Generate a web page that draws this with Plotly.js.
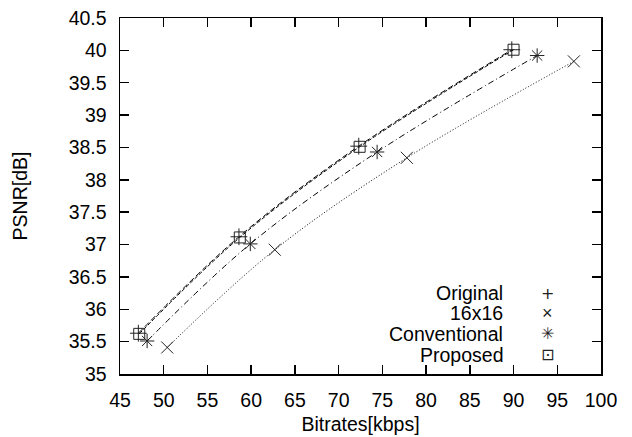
<!DOCTYPE html>
<html>
<head>
<meta charset="utf-8">
<script src="https://cdn.plot.ly/plotly-3.0.1.min.js"></script>
<style>html,body{margin:0;padding:0;background:#fff;}#chart{width:632px;height:437px;}</style>
</head>
<body>
<div id="chart"></div>
<script>
// Data
const seriesNames = ["Original", "16x16", "Conventional", "Proposed"];
const originalRate = [47.1, 58.6, 72.3, 89.8];
const originalPsnr = [35.63, 37.12, 38.52, 40.01];
const rate16 = [50.4, 62.7, 77.8, 96.9];
const psnr16 = [35.41, 36.92, 38.34, 39.83];
const conventionalRate = [48.1, 59.9, 74.4, 92.7];
const conventionalPsnr = [35.51, 37.01, 38.43, 39.92];
const proposedRate = [47.2, 58.7, 72.4, 90.0];
const proposedPsnr = [35.62, 37.11, 38.51, 40.01];
const xTicks = [45, 50, 55, 60, 65, 70, 75, 80, 85, 90, 95, 100];
const yTicks = [35, 35.5, 36, 36.5, 37, 37.5, 38, 38.5, 39, 39.5, 40, 40.5];

const font = {family: "Liberation Sans, Arial, sans-serif", size: 19.5, color: "#000"};

function tr(name, x, y, dash, symbol, msize) {
  return {
    name: name, x: x, y: y, type: "scatter", mode: "lines+markers",
    line: {color: "#000", width: 1, dash: dash, shape: "spline", smoothing: 1},
    marker: {symbol: symbol, size: msize, color: "#222", line: {color: "#222", width: 1}},
    showlegend: false, hoverinfo: "skip"
  };
}

const traces = [
  tr(seriesNames[0], originalRate, originalPsnr, "6px,3px", "cross-thin-open", 12),
  tr(seriesNames[1], rate16, psnr16, "1px,2px", "x-thin-open", 12),
  tr(seriesNames[2], conventionalRate, conventionalPsnr, "6px,3px,1px,3px", "asterisk-open", 12),
  tr(seriesNames[3], proposedRate, proposedPsnr, "4px,2px", "square-open", 11)
];

const legendGlyphs = ["+", "×", "✳", "⊡"];
const legendGlyphFonts = ["DejaVu Sans", "Liberation Sans", "DejaVu Sans", "DejaVu Sans"];
const legendGlyphSizes = [16, 18, 16, 16];
const legendRowsY = [0.227, 0.170, 0.113, 0.054];
const annotations = [];
seriesNames.forEach((n, i) => {
  annotations.push({xref: "paper", yref: "paper", x: 0.8004, y: legendRowsY[i], text: n,
    showarrow: false, xanchor: "right", yanchor: "middle", font: font});
  annotations.push({xref: "paper", yref: "paper", x: 0.8898, y: legendRowsY[i], text: legendGlyphs[i],
    showarrow: false, xanchor: "center", yanchor: "middle",
    font: {family: legendGlyphFonts[i] + ", sans-serif", size: legendGlyphSizes[i], color: "#222"}});
});

const axisCommon = {
  showgrid: false, zeroline: false, showline: true, linecolor: "#000", linewidth: 1.5,
  mirror: "allticks", ticks: "inside", ticklen: 9, tickwidth: 1.5, tickcolor: "#000",
  tickfont: font, ticklabelstandoff: 8
};

const layout = {
  width: 632, height: 437,
  margin: {l: 120, r: 31, t: 18, b: 63},
  paper_bgcolor: "#fff", plot_bgcolor: "#fff",
  font: font,
  xaxis: Object.assign({}, axisCommon, {
    range: [45, 100], tickvals: xTicks, ticktext: xTicks.map(String),
    title: {text: "Bitrates[kbps]", font: font, standoff: 7}
  }),
  yaxis: Object.assign({}, axisCommon, {
    range: [35, 40.5], tickvals: yTicks, ticktext: yTicks.map(String),
    title: {text: "PSNR[dB]", font: font, standoff: 36}
  }),
  annotations: annotations,
  showlegend: false
};

Plotly.newPlot("chart", traces, layout, {staticPlot: true, displayModeBar: false});
</script>
</body>
</html>
